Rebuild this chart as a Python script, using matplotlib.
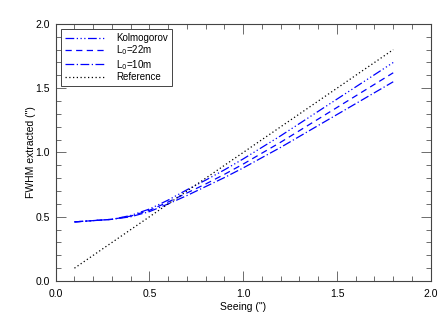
import matplotlib.pyplot as plt
from matplotlib.ticker import MultipleLocator

seeing = [0.1, 0.2, 0.3, 0.4, 0.5, 0.6, 0.7, 0.8, 0.9,
          1.0, 1.1, 1.2, 1.3, 1.4, 1.5, 1.6, 1.7, 1.8]
kolmogorov = [0.46, 0.47, 0.48, 0.51, 0.56, 0.63, 0.71, 0.785, 0.865,
              0.95, 1.04, 1.13, 1.225, 1.32, 1.415, 1.51, 1.605, 1.70]
l0_22m = [0.46, 0.47, 0.48, 0.505, 0.55, 0.615, 0.685, 0.755, 0.83,
          0.91, 0.995, 1.08, 1.17, 1.26, 1.35, 1.44, 1.53, 1.62]
l0_10m = [0.46, 0.47, 0.48, 0.50, 0.54, 0.60, 0.665, 0.735, 0.805,
          0.88, 0.96, 1.04, 1.125, 1.21, 1.295, 1.38, 1.465, 1.55]
reference = seeing

plt.rcParams['font.family'] = ['Liberation Sans', 'DejaVu Sans']
plt.rcParams['font.size'] = 7.5

fig = plt.figure(figsize=(4.47, 3.19), dpi=100)
ax = fig.add_axes([0.1246, 0.119, 0.839, 0.806])

ax.plot(seeing, kolmogorov, color='b', lw=0.9,
        linestyle=(0, (7, 2, 1, 2, 1, 2, 1, 2)), label='Kolmogorov')
ax.plot(seeing, l0_22m, color='b', lw=0.9,
        linestyle=(0, (5, 3.5)), label='L$_0$=22m')
ax.plot(seeing, l0_10m, color='b', lw=0.9,
        linestyle=(0, (7, 2, 1, 2)), label='L$_0$=10m')
ax.plot(seeing, reference, color='k', lw=0.9,
        linestyle=(0, (1, 2)), label='Reference')

ax.set_xlim(0, 2)
ax.set_ylim(0, 2)
ax.xaxis.set_major_locator(MultipleLocator(0.5))
ax.xaxis.set_minor_locator(MultipleLocator(0.1))
ax.yaxis.set_major_locator(MultipleLocator(0.5))
ax.yaxis.set_minor_locator(MultipleLocator(0.1))
ax.xaxis.set_major_formatter(plt.FormatStrFormatter('%.1f'))
ax.yaxis.set_major_formatter(plt.FormatStrFormatter('%.1f'))
ax.tick_params(which='both', direction='in', top=True, right=True, width=0.6, color='#555555')
ax.tick_params(which='major', length=7)
ax.tick_params(which='minor', length=3.5)
ax.tick_params(axis='x', pad=6)
ax.tick_params(axis='y', pad=4)
for s in ax.spines.values():
    s.set_linewidth(0.8)
    s.set_color('#444444')

ax.set_xlabel('Seeing (")', labelpad=2)
ax.set_ylabel('FWHM extracted (")', labelpad=0)

leg = ax.legend(loc='upper left', bbox_to_anchor=(0.014, 0.982), borderaxespad=0,
                fancybox=False, edgecolor='#444444', framealpha=1, handlelength=4.2,
                borderpad=0.45, labelspacing=0.05, handletextpad=1.0, fontsize=7)
leg.get_frame().set_linewidth(0.7)

fig.savefig('out.png', dpi=100)
